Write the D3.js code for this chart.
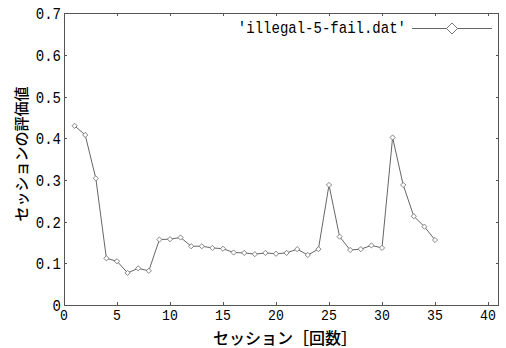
<!DOCTYPE html>
<html><head><meta charset="utf-8">
<script src="https://cdn.jsdelivr.net/npm/d3@7"></script>
<style>body{margin:0;background:#fff}svg{display:block}</style>
</head><body>
<svg id="c" width="506" height="348"></svg>
<script>
const sessions = [1,2,3,4,5,6,7,8,9,10,11,12,13,14,15,16,17,18,19,20,21,22,23,24,25,26,27,28,29,30,31,32,33,34,35];
const values = [0.430,0.408,0.304,0.112,0.105,0.077,0.088,0.082,0.157,0.158,0.162,0.141,0.141,0.137,0.135,0.126,0.125,0.122,0.125,0.123,0.125,0.134,0.120,0.134,0.288,0.164,0.132,0.134,0.143,0.137,0.402,0.288,0.213,0.188,0.156];
const xTicks = [0,5,10,15,20,25,30,35,40];
const yTicks = [0,0.1,0.2,0.3,0.4,0.5,0.6,0.7];
const seriesName = "'illegal-5-fail.dat'";
const xLabel = "セッション［回数］";
const yLabel = "セッションの評価値";

const svg = d3.select("#c");
const L=64, R=498.6, T=13.3, B=305;
const x = d3.scaleLinear().domain([0,41]).range([L,R]);
const y = d3.scaleLinear().domain([0,0.7]).range([B,T]);
const frameCol="#555", lineCol="#666", monoFont="'Liberation Mono', monospace";

svg.append("rect").attr("x",L).attr("y",T).attr("width",R-L).attr("height",B-T)
  .attr("fill","none").attr("stroke",frameCol).attr("stroke-width",1).attr("shape-rendering","crispEdges");

const ax = (g)=>{g.select(".domain").remove(); g.selectAll("line").attr("stroke",frameCol).attr("shape-rendering","crispEdges");};
svg.append("g").attr("transform",`translate(0,${B})`)
  .call(d3.axisBottom(x).tickValues(xTicks).tickSize(-3).tickFormat(""))
  .call(ax);
svg.append("g").attr("transform",`translate(0,${T})`)
  .call(d3.axisTop(x).tickValues(xTicks.filter(d=>d>0)).tickSize(-3).tickFormat(""))
  .call(ax);
svg.append("g").attr("transform",`translate(${L},0)`)
  .call(d3.axisLeft(y).tickValues(yTicks).tickSize(-3).tickFormat(""))
  .call(ax);
svg.append("g").attr("transform",`translate(${R},0)`)
  .call(d3.axisRight(y).tickValues(yTicks).tickSize(-3).tickFormat(""))
  .call(ax);

const sx=0.85;
svg.append("g").selectAll("text").data(xTicks).join("text")
  .attr("transform",d=>`translate(${x(d)},${320}) scale(${sx},1)`)
  .attr("text-anchor","middle").attr("font-family",monoFont).attr("font-size",15.5)
  .attr("fill","#000").text(d=>d);
svg.append("g").selectAll("text").data(yTicks).join("text")
  .attr("transform",d=>`translate(${61},${y(d)+6}) scale(${sx},1)`)
  .attr("text-anchor","end").attr("font-family",monoFont).attr("font-size",16.5)
  .attr("fill","#000").text(d=>d===0?"0":d.toFixed(1));

const data = sessions.map((s,i)=>({s,v:values[i]}));
svg.append("path").datum(data)
  .attr("d",d3.line().x(d=>x(d.s)).y(d=>y(d.v)))
  .attr("fill","none").attr("stroke",lineCol).attr("stroke-width",1);
const diamond = (r)=>`M0,${-r}L${r},0L0,${r}L${-r},0Z`;
svg.append("g").selectAll("path").data(data).join("path")
  .attr("transform",d=>`translate(${x(d.s)},${y(d.v)})`)
  .attr("d",diamond(2.6)).attr("fill","#fff").attr("stroke","#777").attr("stroke-width",0.9);

svg.append("text").attr("transform",`translate(406,33) scale(${sx},1)`)
  .attr("text-anchor","end").attr("font-family",monoFont).attr("font-size",16.5)
  .attr("fill","#000").text(seriesName);
svg.append("line").attr("x1",412).attr("x2",492).attr("y1",28.5).attr("y2",28.5)
  .attr("stroke",lineCol).attr("stroke-width",1);
svg.append("path").attr("transform","translate(452,28.5)").attr("d",diamond(5.5))
  .attr("fill","#fff").attr("stroke","#777").attr("stroke-width",1);

svg.append("text").attr("x",285).attr("y",344).attr("text-anchor","middle")
  .attr("font-family","'Noto Sans CJK JP', sans-serif").attr("font-size",16).attr("font-weight",500)
  .attr("fill","#000").text(xLabel);
svg.append("text").attr("transform","translate(27,154) rotate(-90)").attr("text-anchor","middle")
  .attr("font-family","'Noto Sans CJK JP', sans-serif").attr("font-size",15).attr("font-weight",500)
  .attr("fill","#000").text(yLabel);
</script>
</body></html>
